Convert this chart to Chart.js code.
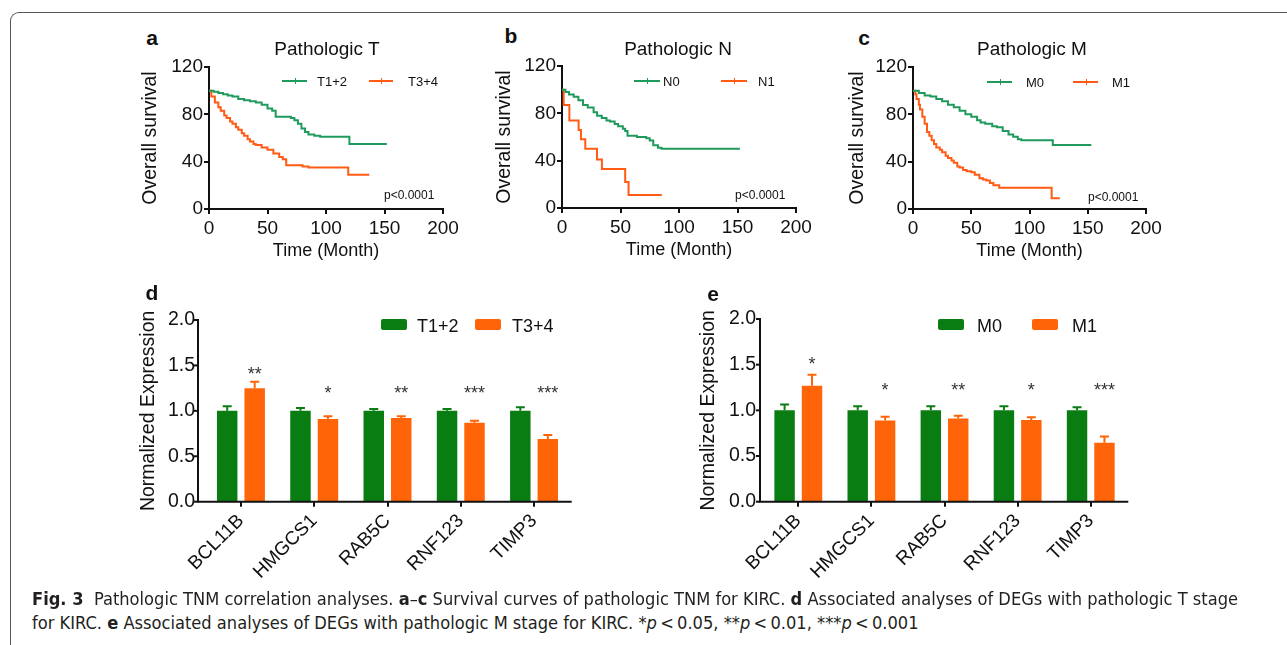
<!DOCTYPE html>
<html><head><meta charset="utf-8">
<script src="https://cdn.jsdelivr.net/npm/chart.js@4.4.1/dist/chart.umd.min.js"></script>
<style>
html,body{margin:0;padding:0;background:#fff;}
body{width:1287px;height:645px;overflow:hidden;position:relative;font-family:"Liberation Sans",Arial,sans-serif;color:#111;}
.box{position:absolute;}
.c{position:absolute;transform:translate(-50%,-50%);white-space:nowrap;line-height:1;}
.l{position:absolute;transform:translateY(-50%);white-space:nowrap;line-height:1;}
.frame{position:absolute;left:10px;top:12px;width:1300px;height:700px;border-left:1.5px solid #555;border-top:1.5px solid #555;border-top-left-radius:9px;}
.lab{font-weight:bold;font-size:21px;}
.ttl{font-size:19px;}
.sl{position:absolute;height:2px;}
.sl i{position:absolute;left:50%;top:-2px;width:1px;height:6px;background:inherit;}
.lt{font-size:13px;}
.pv{font-size:12px;}
.bl{position:absolute;width:26px;height:11px;border-radius:2px;}
.bt{font-size:18px;}
.cap{position:absolute;left:32px;white-space:nowrap;font-family:"Liberation Sans Narrow","DejaVu Sans Condensed","Liberation Sans",sans-serif;font-size:17.5px;color:#231f20;transform-origin:0 50%;line-height:1;}
</style></head><body>
<div class="frame"></div>

<script>
// ---------------- DATA ----------------
const survXTicks = [0, 50, 100, 150, 200];
const survYTicks = [0, 40, 80, 120];
const barYTicks = [0, 0.5, 1.0, 1.5, 2.0];

// a: Pathologic T
const aTimeT12 = [0,4,8,12,16,20,25,30,35,40,45,50,54,57,70,73,76,79,82,85,90,95,120,120,152];
const aSurvT12 = [100,99,98,97,96,95,93,92,91,90,88,85,83,78,77,75,72,68,65,63,62,61,61,55,55];
const aTimeT34 = [0,2,5,8,10,13,15,18,20,23,25,28,30,33,35,38,40,45,50,55,60,63,66,80,85,119,119,137];
const aSurvT34 = [100,95,90,86,83,79,77,74,72,69,67,64,62,59,57,55,54,52,50,47,44,42,37,36,35,35,29,29];

// b: Pathologic N
const bTimeN0 = [0,3,6,10,14,18,22,27,30,34,38,41,45,48,52,54,56,64,72,75,78,82,85,152];
const bSurvN0 = [100,98,96,94,91,87,85,81,78,76,74,73,71,69,67,65,61,60,59,57,53,51,50,50];
const bTimeN1 = [0,1.4,6.3,14.2,16.2,19.9,29.9,34.1,54,56.9,85.3];
const bSurvN1 = [100,87,74,66,58,50,41,33,22,11,11];

// c: Pathologic M
const cTimeM0 = [0,5,10,15,20,25,30,35,40,45,50,55,58,62,68,72,77,82,86,90,93,120,120,153];
const cSurvM0 = [100,98,96,95,93,91,88,86,83,80,78,75,73,72,70,69,66,63,61,59,58,58,54,54];
const cTimeM1 = [0,2,3,5,6,8,10,12,14,16,18,20,23,25,28,30,33,35,38,40,43,46,50,53,57,60,63,66,69,74,119,119,126];
const cSurvM1 = [100,97,93,88,84,78,72,65,62,58,55,52,50,48,45,43,41,39,36,35,33,32,31,29,26,25,24,22,20,18,18,9,9];

// d / e: expression bars
const genes = ['BCL11B','HMGCS1','RAB5C','RNF123','TIMP3'];
const dT12 = [1.0,1.0,1.0,1.0,1.0];
const dT12Err = [0.05,0.03,0.02,0.02,0.04];
const dT34 = [1.25,0.91,0.92,0.87,0.69];
const dT34Err = [0.07,0.03,0.02,0.02,0.045];
const dStars = ['**','*','**','***','***'];
const dStarY = [1.45,1.24,1.24,1.24,1.24];

const eM0 = [1.0,1.0,1.0,1.0,1.0];
const eM0Err = [0.065,0.045,0.045,0.045,0.035];
const eM1 = [1.27,0.89,0.91,0.895,0.645];
const eM1Err = [0.12,0.04,0.03,0.03,0.07];
const eStars = ['*','*','**','*','***'];
const eStarY = [1.55,1.27,1.27,1.27,1.27];

// ---------------- STYLE ----------------
const FONT = '"Liberation Sans", Arial, sans-serif';
const SG = '#1f9a5c', SO = '#ff5b14';   // survival colours
const BG = '#0a7d12', BO = '#ff6508';   // bar colours
const INK = '#111';

Chart.defaults.font.family = FONT;
Chart.defaults.color = INK;
Chart.defaults.animation = false;

function pts(t, s) { return t.map((x, i) => ({x: x, y: s[i]})); }

function addCanvas(cl, ct, cw, ch) {
  const d = document.createElement('div');
  d.className = 'box';
  d.style.left = cl + 'px'; d.style.top = ct + 'px';
  d.style.width = cw + 'px'; d.style.height = ch + 'px';
  const c = document.createElement('canvas');
  c.width = cw; c.height = ch;
  c.style.width = cw + 'px'; c.style.height = ch + 'px';
  d.appendChild(c);
  document.body.appendChild(d);
  return c;
}

function survival(plot, titleX, s1, s2) {
  const cl = titleX - 15 - 10, ct = plot.T - 17, ch = 213, cw = plot.R - cl + 27;
  const yW = plot.L - cl - 10, xH = ct + ch - plot.B;
  const cv = addCanvas(cl, ct, cw, ch);
  new Chart(cv, {
    type: 'line',
    data: { datasets: [
      { data: pts(s1[0], s1[1]), borderColor: SG, backgroundColor: SG, borderWidth: 2, pointRadius: 0, stepped: 'before', fill: false },
      { data: pts(s2[0], s2[1]), borderColor: SO, backgroundColor: SO, borderWidth: 2, pointRadius: 0, stepped: 'before', fill: false }
    ]},
    options: {
      responsive: false, animation: false,
      layout: { padding: { left: 10, top: 17, right: 27, bottom: 0 } },
      plugins: { legend: { display: false }, tooltip: { enabled: false } },
      scales: {
        x: { type: 'linear', min: 0, max: 200,
          afterBuildTicks: s => { s.ticks = survXTicks.map(v => ({value: v})); },
          afterFit: s => { s.height = xH; },
          border: { display: true, color: INK, width: 2 },
          grid: { drawOnChartArea: false, drawTicks: true, tickLength: 5, color: INK, lineWidth: 2 },
          ticks: { font: { size: 19 }, padding: 3, color: INK, maxRotation: 0 },
          title: { display: true, text: 'Time (Month)', font: { size: 18 }, color: INK, padding: { top: 0, bottom: 1 } }
        },
        y: { type: 'linear', min: 0, max: 120,
          afterBuildTicks: s => { s.ticks = survYTicks.map(v => ({value: v})); },
          afterFit: s => { s.width = yW; },
          border: { display: true, color: INK, width: 2 },
          grid: { drawOnChartArea: false, drawTicks: true, tickLength: 5, color: INK, lineWidth: 2 },
          ticks: { font: { size: 19 }, padding: 1, color: INK },
          title: { display: true, text: 'Overall survival', font: { size: 19.5 }, color: INK, padding: { top: 4, bottom: 4 } }
        }
      }
    }
  });
}

const barExtras = {
  id: 'barExtras',
  afterDatasetsDraw(chart, args, o) {
    const ctx = chart.ctx, ys = chart.scales.y, ca = chart.chartArea;
    ctx.save();
    chart.data.datasets.forEach((ds, di) => {
      const meta = chart.getDatasetMeta(di);
      const errs = o.errs[di];
      ctx.strokeStyle = ds.backgroundColor; ctx.lineWidth = 2;
      meta.data.forEach((el, i) => {
        const top = ys.getPixelForValue(ds.data[i] + errs[i]);
        ctx.beginPath();
        ctx.moveTo(el.x, el.y); ctx.lineTo(el.x, top);
        ctx.moveTo(el.x - 4.5, top); ctx.lineTo(el.x + 4.5, top);
        ctx.stroke();
      });
    });
    const m1 = chart.getDatasetMeta(1);
    ctx.fillStyle = '#333'; ctx.font = '18px ' + FONT;
    ctx.textAlign = 'center'; ctx.textBaseline = 'alphabetic';
    o.stars.forEach((s, i) => {
      ctx.fillText(s, m1.data[i].x, ys.getPixelForValue(o.starY[i]) + 10);
    });
    const ax = ca.left - o.gap;
    ctx.strokeStyle = INK; ctx.lineWidth = 2;
    ctx.beginPath();
    ctx.moveTo(ax, ca.top - 1); ctx.lineTo(ax, ca.bottom); ctx.lineTo(ca.right + 1, ca.bottom);
    ctx.stroke();
    ys.ticks.forEach(t => {
      const y = ys.getPixelForValue(t.value);
      ctx.beginPath(); ctx.moveTo(ax - 4, y); ctx.lineTo(ax, y); ctx.stroke();
    });
    ctx.restore();
  }
};

function bars(plot, gap, titleX, lab1, lab2, v1, e1, v2, e2, stars, starY, tickPad) {
  const cl = titleX - 15 - 10, ct = plot.T - 20, cw = 460, ch = 291;
  const yW = plot.L - cl - 10, xH = ct + ch - plot.B;
  const pr = cl + cw - plot.R;
  const cv = addCanvas(cl, ct, cw, ch);
  new Chart(cv, {
    type: 'bar',
    data: { labels: genes, datasets: [
      { label: lab1, data: v1, backgroundColor: BG, barPercentage: 0.745, categoryPercentage: 0.75 },
      { label: lab2, data: v2, backgroundColor: BO, barPercentage: 0.745, categoryPercentage: 0.75 }
    ]},
    plugins: [barExtras],
    options: {
      responsive: false, animation: false,
      layout: { padding: { left: 10, top: 20, right: pr, bottom: 0 } },
      plugins: { legend: { display: false }, tooltip: { enabled: false },
        barExtras: { errs: [e1, e2], stars: stars, starY: starY, gap: gap } },
      scales: {
        x: { type: 'category', offset: true,
          afterFit: s => { s.height = xH; },
          border: { display: false },
          grid: { offset: false, drawOnChartArea: false, drawTicks: true, tickLength: 5, color: INK, lineWidth: 2 },
          ticks: { font: { size: 19 }, color: INK, minRotation: 45, maxRotation: 45, autoSkip: false, padding: 3 }
        },
        y: { type: 'linear', min: 0, max: 2,
          afterBuildTicks: s => { s.ticks = barYTicks.map(v => ({value: v})); },
          afterFit: s => { s.width = yW; },
          border: { display: false },
          grid: { display: false, drawTicks: false },
          ticks: { font: { size: 19.5 }, color: INK, padding: tickPad, callback: v => Number(v).toFixed(1) },
          title: { display: true, text: 'Normalized Expression', font: { size: 19.5 }, color: INK, padding: { top: 4, bottom: 4 } }
        }
      }
    }
  });
}

survival({L: 209, T: 67, R: 443, B: 209}, 150, [aTimeT12, aSurvT12], [aTimeT34, aSurvT34]);
survival({L: 562, T: 66, R: 796, B: 208}, 504, [bTimeN0, bSurvN0], [bTimeN1, bSurvN1]);
survival({L: 913, T: 67, R: 1146, B: 209}, 857, [cTimeM0, cSurvM0], [cTimeM1, cSurvM1]);

bars({L: 204.3, T: 319, R: 570.7, B: 501.7}, 6.3, 148, 'T1+2', 'T3+4', dT12, dT12Err, dT34, dT34Err, dStars, dStarY, 9.3);
bars({L: 761.75, T: 319, R: 1127.3, B: 501.7}, 1.75, 708, 'M0', 'M1', eM0, eM0Err, eM1, eM1Err, eStars, eStarY, 5.75);
</script>

<div class="c lab" style="left:152px;top:37px;">a</div>
<div class="c lab" style="left:511px;top:35px;">b</div>
<div class="c lab" style="left:864px;top:37px;">c</div>
<div class="c lab" style="left:152px;top:292px;">d</div>
<div class="c lab" style="left:713px;top:293px;">e</div>

<div class="c ttl" style="left:327px;top:48px;">Pathologic T</div>
<div class="c ttl" style="left:678px;top:48px;">Pathologic N</div>
<div class="c ttl" style="left:1032px;top:48px;">Pathologic M</div>

<div class="sl" style="left:282px;top:80px;width:25px;background:#1f9a5c;"><i></i></div>
<div class="l lt" style="left:317px;top:81px;">T1+2</div>
<div class="sl" style="left:369px;top:80px;width:24px;background:#ff5b14;"><i></i></div>
<div class="l lt" style="left:408px;top:81px;">T3+4</div>

<div class="sl" style="left:634px;top:80px;width:26px;background:#1f9a5c;"><i></i></div>
<div class="l lt" style="left:663px;top:81px;">N0</div>
<div class="sl" style="left:721px;top:80px;width:26px;background:#ff5b14;"><i></i></div>
<div class="l lt" style="left:758px;top:81px;">N1</div>

<div class="sl" style="left:987px;top:81px;width:25px;background:#1f9a5c;"><i></i></div>
<div class="l lt" style="left:1026px;top:82px;">M0</div>
<div class="sl" style="left:1073px;top:81px;width:25px;background:#ff5b14;"><i></i></div>
<div class="l lt" style="left:1112px;top:82px;">M1</div>

<div class="l pv" style="left:384px;top:195px;">p&lt;0.0001</div>
<div class="l pv" style="left:735px;top:195px;">p&lt;0.0001</div>
<div class="l pv" style="left:1088px;top:197px;">p&lt;0.0001</div>

<div class="bl" style="left:381px;top:319px;background:#0a7d12;"></div>
<div class="l bt" style="left:417px;top:326px;">T1+2</div>
<div class="bl" style="left:475px;top:319px;background:#ff6508;"></div>
<div class="l bt" style="left:512px;top:326px;">T3+4</div>

<div class="bl" style="left:938px;top:319px;background:#0a7d12;"></div>
<div class="l bt" style="left:977px;top:326px;">M0</div>
<div class="bl" style="left:1032px;top:319px;background:#ff6508;"></div>
<div class="l bt" style="left:1072px;top:326px;">M1</div>

<div class="cap" id="cap1" style="top:591px;"><b>Fig. 3</b>&nbsp; Pathologic TNM correlation analyses. <b>a</b>–<b>c</b> Survival curves of pathologic TNM for KIRC. <b>d</b> Associated analyses of DEGs with pathologic T stage</div>
<div class="cap" id="cap2" style="top:615px;">for KIRC. <b>e</b> Associated analyses of DEGs with pathologic M stage for KIRC. *<i>p</i>&thinsp;&lt;&thinsp;0.05, **<i>p</i>&thinsp;&lt;&thinsp;0.01, ***<i>p</i>&thinsp;&lt;&thinsp;0.001</div>
<script>
(function(){
  const c1 = document.getElementById('cap1'), c2 = document.getElementById('cap2');
  const w1 = c1.getBoundingClientRect().width;
  const k = 1206 / w1;
  c1.style.transform = 'scaleX(' + k + ')';
  c2.style.transform = 'scaleX(' + k + ')';
})();
</script>
</body></html>
